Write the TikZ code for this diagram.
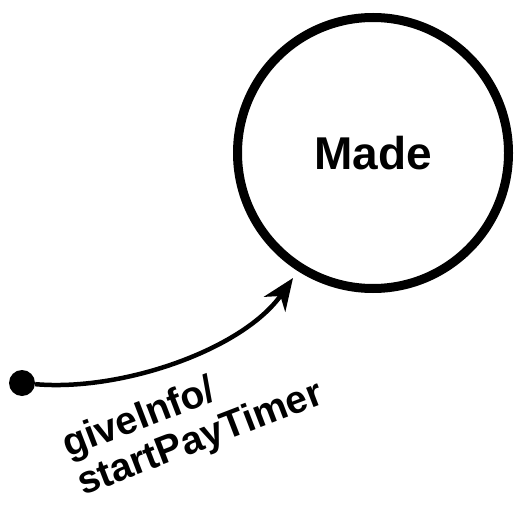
\documentclass[tikz,border=0pt]{standalone}
\usepackage{fontspec}
\setmainfont{Liberation Sans}
\usepackage{tikz}
\usetikzlibrary{positioning,arrows.meta}

\begin{document}
\begin{tikzpicture}[x=1pt,y=-1pt,
	statenode/.style={circle, draw, line width=9pt, minimum size=271pt, inner sep=0pt, font=\fontsize{46}{50}\selectfont\bfseries},
	initdot/.style={circle, fill, minimum size=26pt, inner sep=0pt},
	trans/.style={line width=4.5pt, -{Stealth[length=32pt,width=26pt,inset=10pt]}},
	translabel/.style={font=\fontsize{39}{41}\selectfont\bfseries, align=left, inner sep=0pt, rotate=21}]
	\useasboundingbox (0,0) rectangle (516,505);
		\node[statenode] (made) at (373,153) {Made};
		\node[initdot] (start) at (22,383) {};

	\draw[trans] (start) to[out=-5, in=-125, looseness=0.8] (293,278);
	\node[translabel, anchor=north west] (label) at (58,431) {giveInfo/\\startPayTimer};
		\end{tikzpicture}
\end{document}
